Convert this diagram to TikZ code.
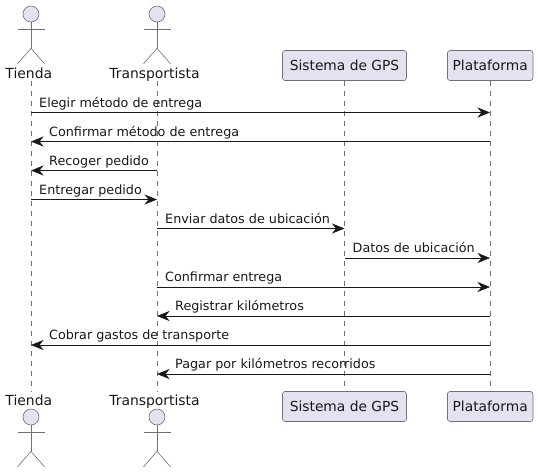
\documentclass[tikz,border=0pt]{standalone}
\usepackage{fontspec}
\setmainfont{DejaVu Sans}
\usetikzlibrary{arrows.meta}
\definecolor{boxfill}{HTML}{E2E2F0}
\definecolor{inkdark}{HTML}{181818}
\definecolor{inkthin}{HTML}{707070}
\tikzset{
	party/.style={draw=inkthin, line width=0.6pt, fill=boxfill, rounded corners=2.5pt, minimum width=#1, minimum height=30pt, inner sep=0pt, font=\fontsize{13.8}{16}\selectfont, text=inkdark},
	actorname/.style={anchor=base, text height=10pt, text depth=0pt, inner xsep=0pt, inner ysep=3pt, font=\fontsize{13.9}{16}\selectfont, text=inkdark},
	actorhead/.style={circle, draw=inkthin, line width=0.6pt, fill=boxfill, minimum size=16pt, inner sep=0pt},
	lifeline/.style={draw=inkthin, line width=0.5pt, dash pattern=on 5pt off 5pt},
	limb/.style={draw=inkthin, line width=0.6pt},
	msg/.style={draw=inkdark, line width=0.6pt, -{Stealth[length=12.5pt, width=10pt, inset=4pt, color=inkdark]}},
	msgtext/.style={anchor=base west, inner sep=0pt, font=\fontsize{12.75}{15}\selectfont, text=inkdark}
}
\begin{document}
\begin{tikzpicture}[x=1pt, y=-1pt]
	\useasboundingbox (0,0) rectangle (538,472);
	\coordinate (tiendaLine) at (31,0);
	\coordinate (transLine) at (157,0);
	\coordinate (gpsLine) at (344.5,0);
	\coordinate (platLine) at (490,0);
	\node [actorname] (tiendaTop) at (28.8,78) {Tienda};
	\node [actorname] (transTop) at (154.5,78) {Transportista};
	\node [party=124pt] (gpsTop) at (344.5,65.5) {Sistema de GPS};
	\node [party=85.5pt] (platTop) at (490.2,65.5) {Plataforma};
	\node [actorname] (tiendaBot) at (28.8,405) {Tienda};
	\node [actorname] (transBot) at (154.5,405) {Transportista};
	\node [party=124pt] (gpsBot) at (344.5,406.5) {Sistema de GPS};
	\node [party=85.5pt] (platBot) at (490.2,406.5) {Plataforma};
	\foreach \who in {tienda, trans, gps, plat}
		\draw [lifeline] (\who Top.south -| \who Line) -- (\who Bot.north -| \who Line);
	% actors, top and bottom
	\foreach \who/\xc/\yc in {tienda/31/14, trans/157/14, tiendaB/31/417, transB/157/417} {
		\node [actorhead] (\who Head) at (\xc,\yc) {};
		\draw [limb] (\who Head.south) -- ++(0,26) coordinate (\who Hip);
		\draw [limb] (\who Head.south) ++(-13.5,7) -- ++(27,0);
		\draw [limb] (\who Hip) -- ++(-13.5,15.5);
		\draw [limb] (\who Hip) -- ++(13.5,15.5);
	}
	% messages going right
	\foreach \i/\from/\to/\yy/\txt in {
		1/tienda/plat/112.5/Elegir método de entrega,
		4/tienda/trans/199.5/Entregar pedido,
		5/trans/gps/228.5/Enviar datos de ubicación,
		6/gps/plat/258/Datos de ubicación,
		7/trans/plat/287/Confirmar entrega} {
		\coordinate (row\i) at (0,\yy);
		\draw [msg] (\from Line |- row\i) -- (\to Line |- row\i);
		\node [msgtext] (msg\i) at ([xshift=8pt, yshift=5.5pt] \from Line |- row\i) {\txt};
	}
	% messages going left
	\foreach \i/\from/\to/\yy/\txt in {
		2/plat/tienda/141.5/Confirmar método de entrega,
		3/trans/tienda/170.5/Recoger pedido,
		8/plat/trans/316/Registrar kilómetros,
		9/plat/tienda/345/Cobrar gastos de transporte,
		10/plat/trans/374/Pagar por kilómetros recorridos} {
		\coordinate (row\i) at (0,\yy);
		\draw [msg] (\from Line |- row\i) -- (\to Line |- row\i);
		\node [msgtext] (msg\i) at ([xshift=18pt, yshift=5.5pt] \to Line |- row\i) {\txt};
	}
\end{tikzpicture}
\end{document}
